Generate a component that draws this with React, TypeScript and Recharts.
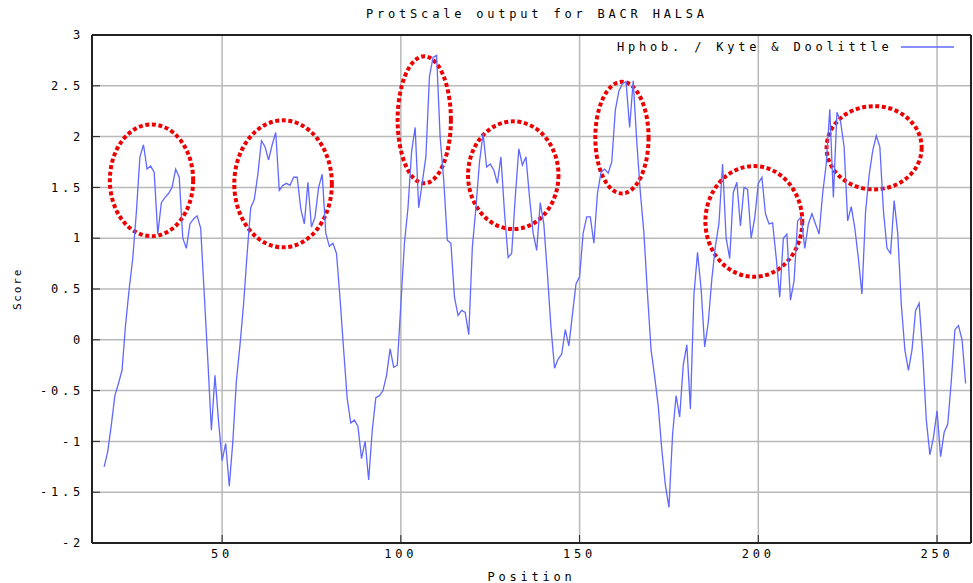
import {
    LineChart,
    Line,
    XAxis,
    YAxis,
    CartesianGrid,
    ReferenceArea,
    Legend,
} from "recharts";

// Kyte & Doolittle hydropathy scores, one per residue, starting at position 17
const firstPosition = 17;
const kdScores = [
    -1.25, -1.1, -0.84, -0.55, -0.43, -0.3, 0.15, 0.5, 0.8, 1.25,
    1.8, 1.92, 1.68, 1.71, 1.65, 1.04, 1.35, 1.4, 1.44, 1.5,
    1.68, 1.6, 1.0, 0.9, 1.14, 1.19, 1.22, 1.1, 0.45, -0.2,
    -0.89, -0.35, -0.8, -1.19, -1.02, -1.44, -1.0, -0.4, -0.05, 0.35,
    0.85, 1.3, 1.38, 1.63, 1.96, 1.9, 1.77, 1.92, 2.04, 1.47,
    1.52, 1.54, 1.52, 1.6, 1.6, 1.29, 1.14, 1.55, 1.11, 1.21,
    1.5, 1.63, 1.05, 0.92, 0.95, 0.85, 0.4, -0.1, -0.58, -0.82,
    -0.79, -0.85, -1.17, -1.0, -1.38, -0.89, -0.57, -0.55, -0.5, -0.35,
    -0.09, -0.27, -0.25, 0.35, 0.95, 1.3, 1.85, 2.09, 1.3, 1.55,
    1.8, 2.59, 2.78, 2.8, 1.99, 1.57, 0.98, 0.95, 0.42, 0.24,
    0.29, 0.27, 0.05, 0.91, 1.3, 1.75, 2.03, 1.7, 1.73, 1.67,
    1.54, 1.8, 1.25, 0.81, 0.85, 1.4, 1.88, 1.72, 1.8, 1.4,
    1.05, 0.88, 1.35, 1.14, 0.65, 0.12, -0.28, -0.19, -0.14, 0.1,
    -0.06, 0.25, 0.55, 0.62, 1.05, 1.21, 1.21, 0.95, 1.44, 1.65,
    1.68, 1.64, 1.75, 2.26, 2.45, 2.52, 2.54, 2.09, 2.55, 1.95,
    1.45, 1.05, 0.45, -0.1, -0.36, -0.65, -1.08, -1.43, -1.65, -0.94,
    -0.55, -0.76, -0.25, -0.05, -0.68, 0.45, 0.86, 0.5, -0.07, 0.17,
    0.6, 0.92, 1.15, 1.73, 1.0, 0.8, 1.45, 1.55, 1.12, 1.5,
    1.48, 1.0, 1.2, 1.54, 1.6, 1.24, 1.14, 1.15, 0.81, 0.42,
    1.0, 1.04, 0.39, 0.58, 1.17, 1.21, 0.9, 1.14, 1.24, 1.14,
    1.04, 1.44, 1.73, 2.27, 1.4, 2.24, 2.15, 1.9, 1.17, 1.31,
    1.1, 0.8, 0.45, 1.26, 1.62, 1.86, 2.01, 1.9, 1.27, 0.9,
    0.85, 1.37, 1.05, 0.35, -0.1, -0.3, -0.1, 0.29, 0.36, -0.14,
    -0.79, -1.13, -0.96, -0.7, -1.15, -0.91, -0.83, -0.4, 0.1, 0.14,
    0.0, -0.43,
];

const xTicks = [50, 100, 150, 200, 250];
const yTicks = [-2, -1.5, -1, -0.5, 0, 0.5, 1, 1.5, 2, 2.5, 3];

// red dotted rings drawn on the plot (data coordinates)
const ringX1 = [18.6, 53.4, 99.1, 118.8, 154.4, 185.2, 219.1];
const ringX2 = [41.9, 80.7, 114.0, 144.1, 169.3, 212.3, 245.7];
const ringY1 = [1.02, 0.91, 1.54, 1.09, 1.44, 0.62, 1.48];
const ringY2 = [2.12, 2.16, 2.79, 2.15, 2.54, 1.71, 2.3];

const data = kdScores.map((score, i) => ({ position: firstPosition + i, score }));

const FONT = "'DejaVu Sans Mono', monospace";
const LINE_COLOR = "#6068ff";
const AXIS_COLOR = "#222";
const tickFont = { fontFamily: FONT, fontSize: 12, fill: "#000", letterSpacing: 3.8 };

function Ring(props: any) {
    const { x, y, width, height } = props;
    return (
        <ellipse
            cx={x + width / 2}
            cy={y + height / 2}
            rx={Math.abs(width) / 2}
            ry={Math.abs(height) / 2}
            fill="none"
            stroke="#ee0000"
            strokeWidth={4}
            strokeDasharray="4 2.6"
        />
    );
}

function ScoreLabel(props: any) {
    const vb = props.viewBox || {};
    const cy = (vb.y ?? 35) + (vb.height ?? 508) / 2;
    return (
        <text
            x={17}
            y={cy}
            transform={`rotate(-90 17 ${cy})`}
            textAnchor="middle"
            dominantBaseline="central"
            fontFamily={FONT}
            fontSize={11}
            letterSpacing={1.8}
            fill="#000"
        >
            Score
        </text>
    );
}

function KdLegend() {
    return (
        <div
            style={{
                display: "flex",
                alignItems: "center",
                fontFamily: FONT,
                fontSize: 12,
                letterSpacing: "3.8px",
                lineHeight: "14px",
                color: "#000",
                whiteSpace: "nowrap",
            }}
        >
            <span>Hphob. / Kyte &amp; Doolittle</span>
            <svg width={54} height={10} style={{ marginLeft: 8 }}>
                <line x1={0} y1={5} x2={53} y2={5} stroke={LINE_COLOR} strokeWidth={1.3} />
            </svg>
        </div>
    );
}

export default function App() {
    return (
        <div style={{ position: "absolute", left: 0, top: 0, width: 973, height: 583, background: "#fff" }}>
            <div
                style={{
                    position: "absolute",
                    left: 366,
                    top: 7,
                    fontFamily: FONT,
                    fontSize: 12,
                    letterSpacing: "3.8px",
                    lineHeight: "14px",
                    whiteSpace: "nowrap",
                    color: "#000",
                }}
            >
                ProtScale output for BACR HALSA
            </div>
            <LineChart width={973} height={583} data={data} margin={{ top: 35, right: 2, bottom: 0, left: 0 }}>
                <CartesianGrid xAxisId="pos" yAxisId="score" stroke="#b9b9b9" strokeWidth={1.5} />
                <XAxis
                    xAxisId="pos"
                    dataKey="position"
                    type="number"
                    domain={[13.6, 259.5]}
                    ticks={xTicks}
                    allowDataOverflow
                    height={40}
                    tickSize={-8}
                    tickMargin={14}
                    stroke={AXIS_COLOR}
                    axisLine={{ strokeWidth: 2 }}
                    tick={tickFont}
                    label={{
                        value: "Position",
                        position: "insideBottom",
                        offset: 2,
                        style: { fontFamily: FONT, fontSize: 12, fill: "#000", letterSpacing: 3.8 },
                    }}
                />
                <XAxis
                    xAxisId="top"
                    orientation="top"
                    type="number"
                    domain={[13.6, 259.5]}
                    ticks={xTicks}
                    allowDataOverflow
                    mirror
                    tick={false}
                    tickSize={8}
                    stroke={AXIS_COLOR}
                    axisLine={{ strokeWidth: 2 }}
                />
                <YAxis
                    yAxisId="score"
                    type="number"
                    domain={[-2, 3]}
                    ticks={yTicks}
                    allowDataOverflow
                    width={92}
                    tickSize={-8}
                    tickMargin={16}
                    stroke={AXIS_COLOR}
                    axisLine={{ strokeWidth: 2 }}
                    tick={tickFont}
                    label={ScoreLabel}
                />
                <YAxis
                    yAxisId="right"
                    orientation="right"
                    type="number"
                    domain={[-2, 3]}
                    ticks={yTicks}
                    allowDataOverflow
                    mirror
                    tick={false}
                    tickSize={8}
                    stroke={AXIS_COLOR}
                    axisLine={{ strokeWidth: 2 }}
                />
                <Legend
                    layout="vertical"
                    align="center"
                    verticalAlign="middle"
                    content={KdLegend}
                    wrapperStyle={{ left: 617, top: 40, width: "auto", height: "auto" }}
                />
                <Line
                    xAxisId="pos"
                    yAxisId="score"
                    type="linear"
                    dataKey="score"
                    name="Hphob. / Kyte & Doolittle"
                    stroke={LINE_COLOR}
                    strokeWidth={1.3}
                    dot={false}
                    activeDot={false}
                    isAnimationActive={false}
                />
                {ringX1.map((x1, i) => (
                    <ReferenceArea
                        key={`ring-${i}`}
                        xAxisId="pos"
                        yAxisId="score"
                        x1={x1}
                        x2={ringX2[i]}
                        y1={ringY1[i]}
                        y2={ringY2[i]}
                        ifOverflow="visible"
                        shape={Ring}
                    />
                ))}
            </LineChart>
        </div>
    );
}
